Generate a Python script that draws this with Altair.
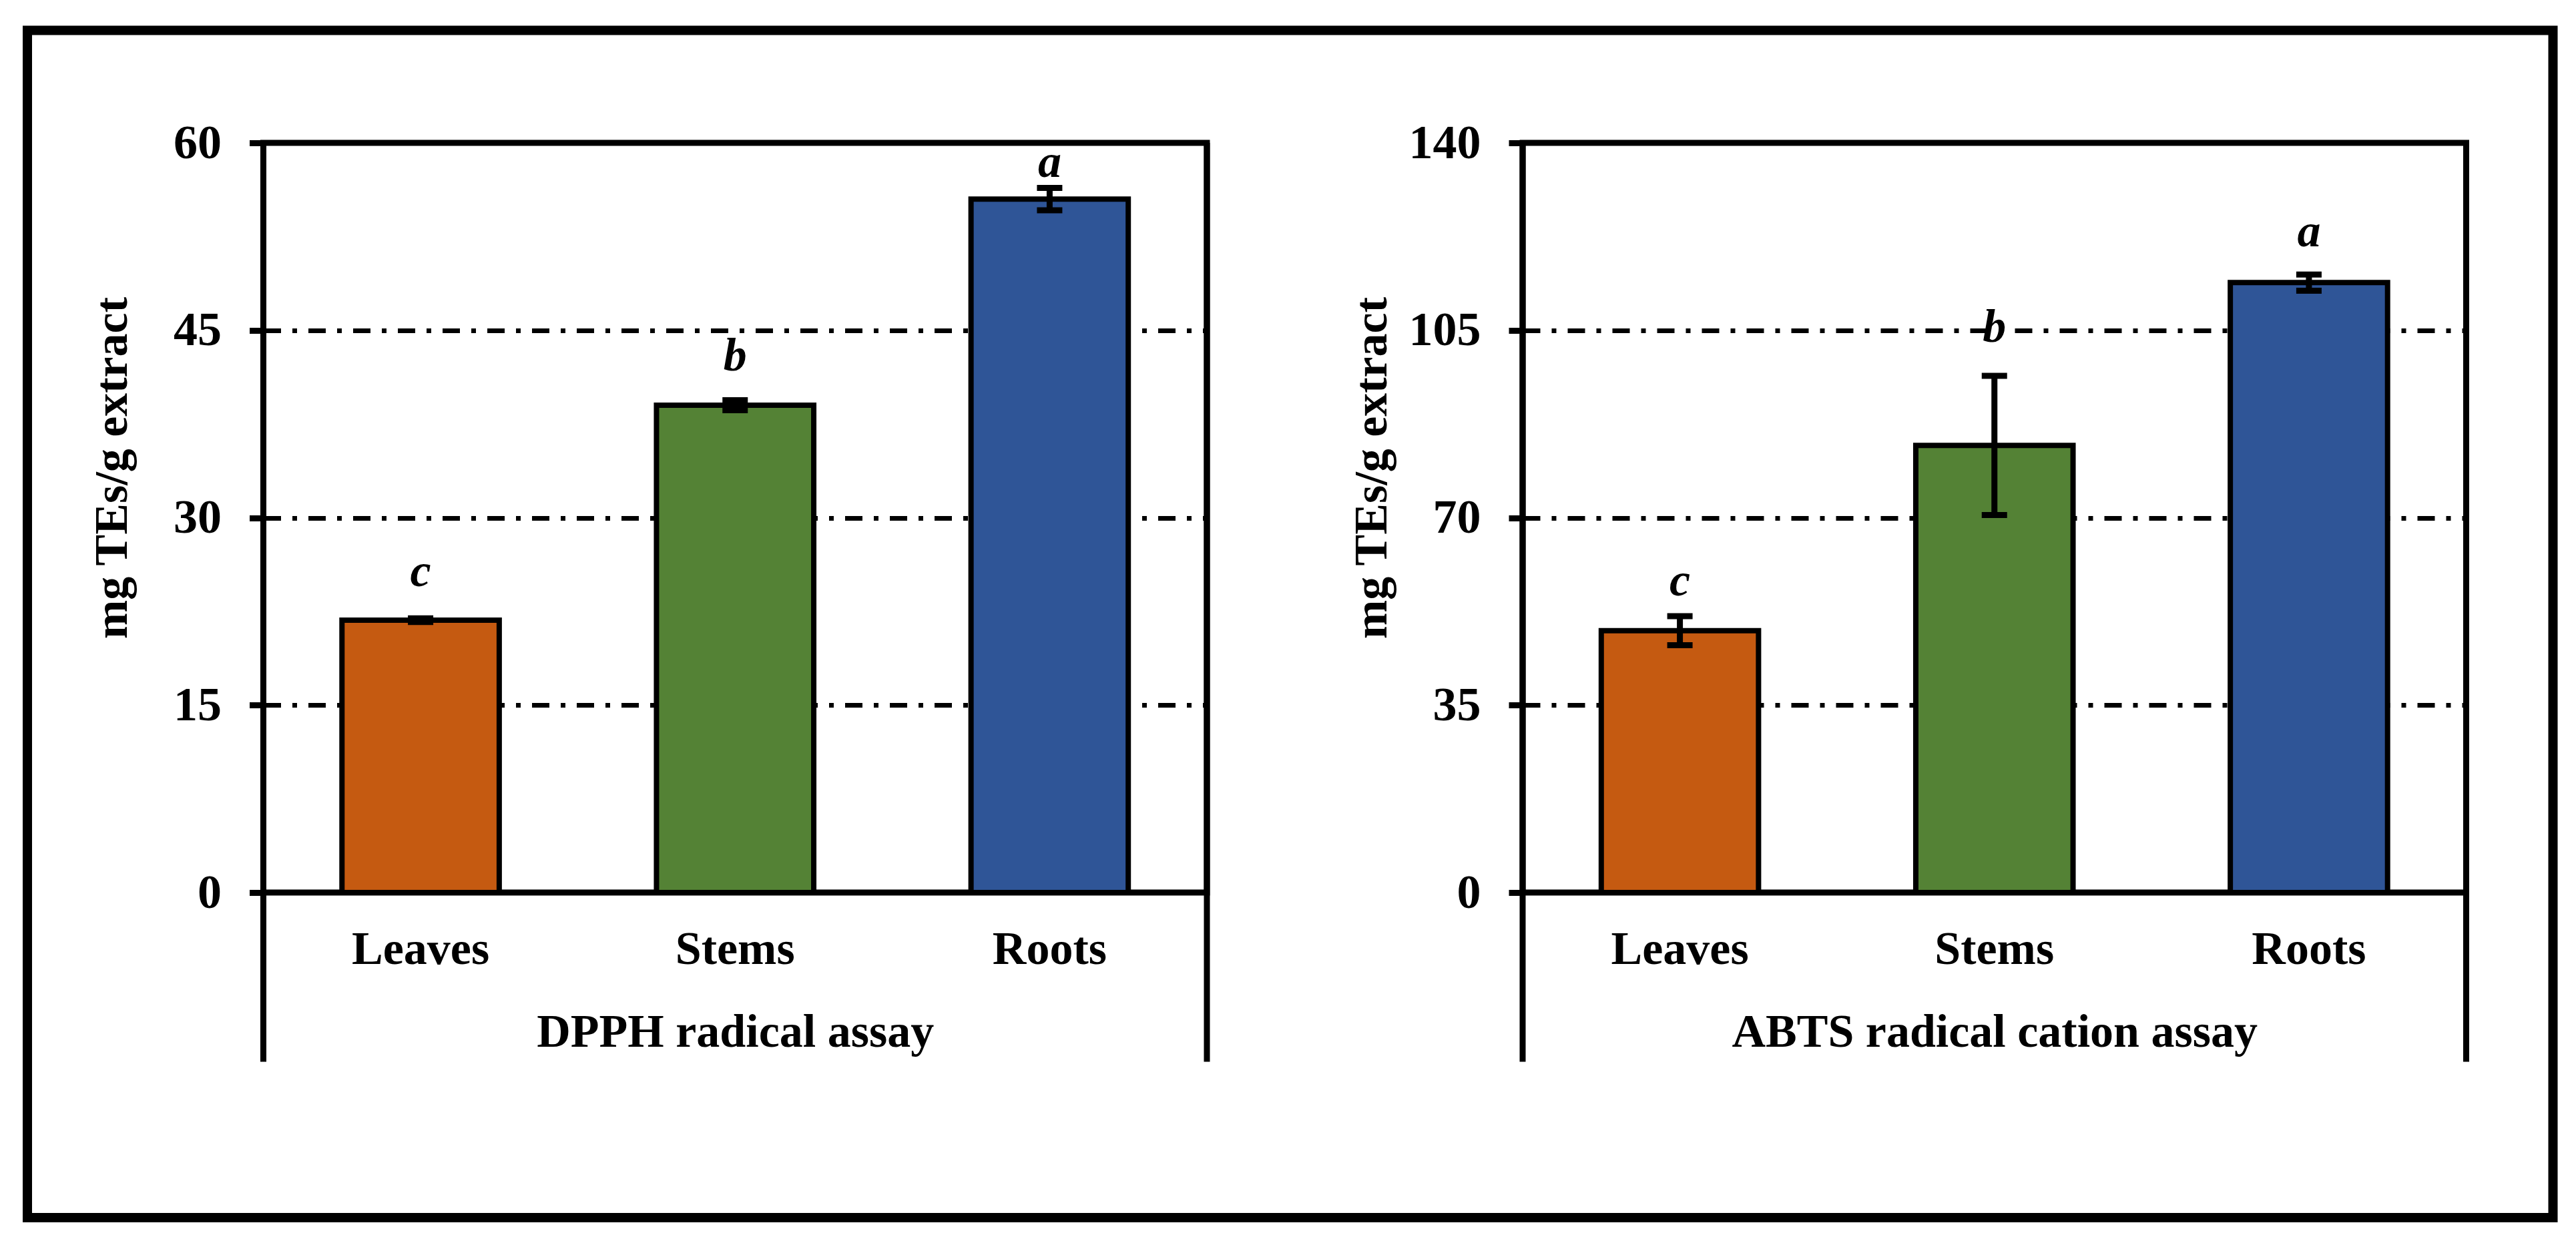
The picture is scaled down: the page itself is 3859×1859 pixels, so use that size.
import altair as alt
import pandas as pd

# ---------------- data ----------------
categories = ["Leaves", "Stems", "Roots"]
bar_colors = ["#C55A11", "#548235", "#2F5597"]

dpph_mean = [21.8, 39.0, 55.5]
dpph_err = [0.15, 0.4, 0.9]
dpph_letters = ["c", "b", "a"]
dpph_letter_y = [24.5, 41.8, 57.3]
dpph_ticks = [0, 15, 30, 45, 60]

abts_mean = [48.9, 83.5, 113.9]
abts_err = [2.7, 13.0, 1.5]
abts_letters = ["c", "b", "a"]
abts_letter_y = [55.5, 102.9, 120.7]
abts_ticks = [0, 35, 70, 105, 140]

y_title = "mg TEs/g extract"
dpph_title = "DPPH radical assay"
abts_title = "ABTS radical cation assay"

# ---------------- layout / style ----------------
FONT = "Liberation Serif"
W = 1413.5
H = 1123
FS = 70


def panel(mean, err, letters, letter_y, ticks, assay_title, with_frame=False):
    df = pd.DataFrame({
        "cat": categories,
        "mean": mean,
        "lo": [m - e for m, e in zip(mean, err)],
        "hi": [m + e for m, e in zip(mean, err)],
        "letter": letters,
        "ly": letter_y,
    })
    yscale = alt.Scale(domain=[0, ticks[-1]], nice=False, zero=True)
    xaxis = alt.Axis(
        title=assay_title, domain=False, ticks=False, tickSize=0, grid=False,
        labelAngle=0, labelFont=FONT, labelFontSize=FS, labelFontWeight="bold",
        labelColor="black", labelPadding=106.5, labelBaseline="alphabetic",
        labelLimit=2000,
        titleFont=FONT, titleFontSize=FS, titleFontWeight="bold", titleColor="black",
        titleY=230.5, titleBaseline="alphabetic", titleLimit=4000,
    )
    yaxis = alt.Axis(
        title=y_title, values=ticks, domain=False,
        tickSize=21, tickWidth=9, tickColor="black",
        labelFont=FONT, labelFontSize=72, labelFontWeight="bold", labelColor="black",
        labelPadding=42,
        grid=True, gridColor="black", gridWidth=7, gridDash=[26, 17, 7, 17], gridOpacity=1,
        titleFont=FONT, titleFontSize=FS, titleFontWeight="bold", titleColor="black",
        titleX=-205, titleY=486.5, titleBaseline="alphabetic", titleLimit=4000,
    )

    def X():
        return alt.X("cat:N", sort=categories,
                     scale=alt.Scale(paddingInner=0.5, paddingOuter=0.25), axis=xaxis)

    def Y(field):
        return alt.Y(field, scale=yscale, axis=yaxis)

    base = alt.Chart(df)
    bars = base.mark_bar(stroke="black", strokeWidth=8).encode(
        x=X(),
        y=Y("mean:Q"),
        color=alt.Color("cat:N", scale=alt.Scale(domain=categories, range=bar_colors), legend=None),
    )
    stem = base.mark_rule(color="black", strokeWidth=9).encode(
        x=X(), y=Y("lo:Q"), y2="hi:Q",
    )
    cap_lo = base.mark_tick(color="black", thickness=9, size=38, opacity=1).encode(
        x=X(), y=Y("lo:Q"),
    )
    cap_hi = base.mark_tick(color="black", thickness=9, size=38, opacity=1).encode(
        x=X(), y=Y("hi:Q"),
    )
    text = base.mark_text(
        font=FONT, fontSize=FS, fontWeight="bold", fontStyle="italic",
        baseline="alphabetic", align="center", color="black",
    ).encode(
        x=X(), y=Y("ly:Q"), text="letter:N",
    )
    one = pd.DataFrame({"k": [0]})
    ext_l = alt.Chart(one).mark_rule(color="black", strokeWidth=9).encode(
        x=alt.value(0), y=alt.value(0), y2=alt.value(1376.5))
    ext_r = alt.Chart(one).mark_rule(color="black", strokeWidth=9).encode(
        x=alt.value(W), y=alt.value(0), y2=alt.value(1376.5))
    layers = [bars, stem, cap_lo, cap_hi, text, ext_l, ext_r]
    if with_frame:
        frame = alt.Chart(one).mark_rect(fill="white", fillOpacity=0, stroke="black", strokeWidth=14).encode(
            x=alt.value(-353.5), x2=alt.value(3430), y=alt.value(-168.5), y2=alt.value(1610))
        layers = [frame] + layers
    return alt.layer(*layers).properties(width=W, height=H)


left = panel(dpph_mean, dpph_err, dpph_letters, dpph_letter_y, dpph_ticks, dpph_title, with_frame=True)
right = panel(abts_mean, abts_err, abts_letters, abts_letter_y, abts_ticks, abts_title)

chart = (
    alt.hconcat(left, right, spacing=472.5, bounds="flush")
    .properties(
        padding={"left": 21.5, "top": 26, "right": 5, "bottom": 5},
        background="white",
    )
    .configure(font=FONT)
    .configure_view(stroke="black", strokeWidth=9)
)

chart.save("out.html", embed_options={"renderer": "svg", "actions": False})
